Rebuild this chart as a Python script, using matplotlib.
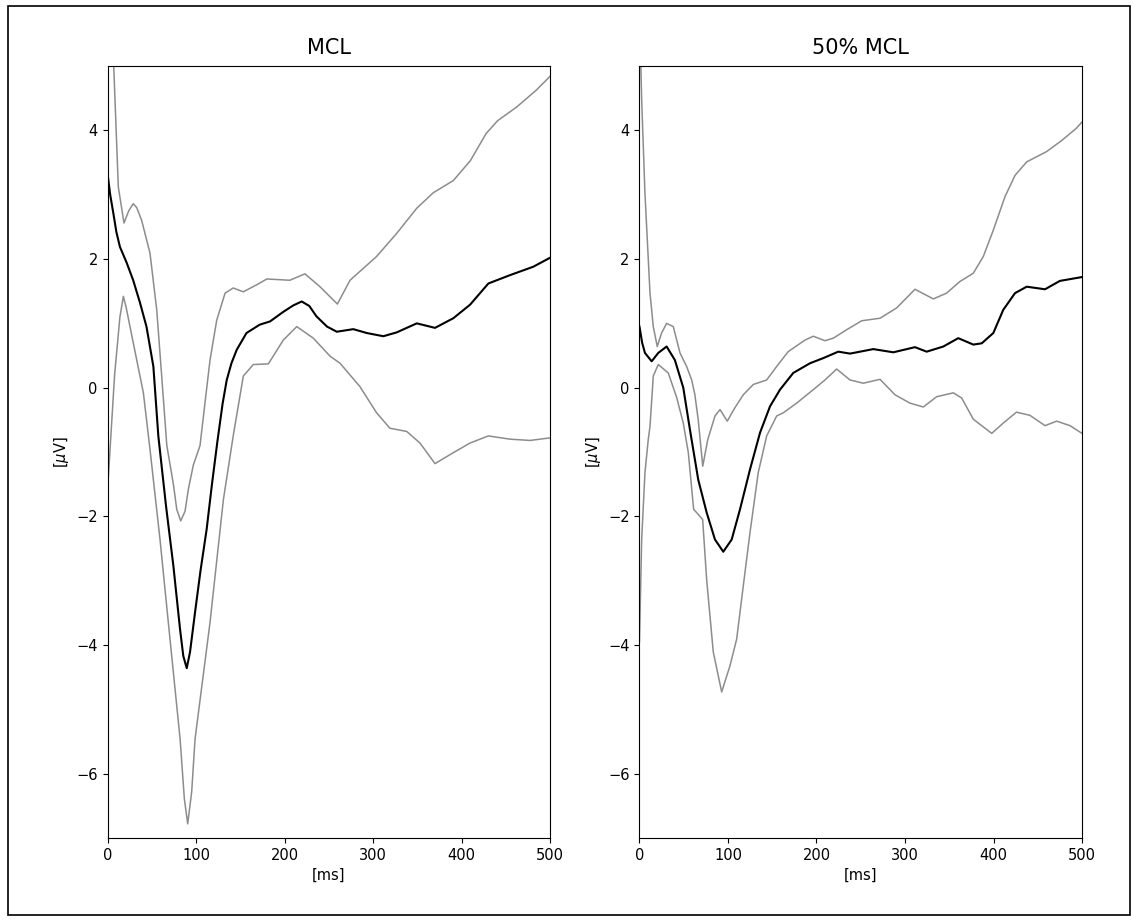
import numpy as np
import matplotlib
matplotlib.use("Agg")
import matplotlib.pyplot as plt
from matplotlib.patches import Rectangle

# MCL panel: time (ms) and amplitude (uV)
t_mcl_mean = [0, 3, 6.6, 10, 14, 21.7, 29, 36.7, 44, 51.8, 57.4, 66.1, 74.4, 81.9, 85.6, 89.5,
              93.2, 98.9, 105, 112, 118, 124, 130, 134.7, 140, 146, 157, 172, 183.6, 198.7,
              210, 219.4, 228, 236, 248, 259, 277.7, 292.9, 311.6, 326.8, 349.4, 370, 390.7,
              409.6, 430.3, 454.8, 481, 500]
v_mcl_mean = [3.33, 3.0, 2.71, 2.42, 2.19, 1.94, 1.67, 1.32, 0.95, 0.33, -0.75, -1.84, -2.77,
              -3.75, -4.17, -4.36, -4.11, -3.49, -2.85, -2.2, -1.5, -0.85, -0.25, 0.12, 0.38,
              0.59, 0.85, 0.98, 1.03, 1.18, 1.28, 1.34, 1.27, 1.11, 0.95, 0.87, 0.91, 0.85,
              0.80, 0.86, 1.0, 0.93, 1.08, 1.29, 1.62, 1.75, 1.88, 2.02]

t_mcl_up = [0, 4, 7, 12.2, 18.6, 24, 29, 33, 38.6, 48, 55.6, 61.2, 67, 74.4, 78.2, 82.7, 87.6,
            91.3, 97, 104.5, 110, 115.8, 123.4, 132.8, 142, 153.4, 168.6, 180, 206, 223, 240,
            259.7, 274, 304, 326.8, 349.4, 368, 390.7, 410, 427.7, 440.7, 462, 484, 500]
v_mcl_up = [7.5, 5.8, 5.0, 3.12, 2.56, 2.75, 2.86, 2.8, 2.6, 2.09, 1.21, 0.18, -0.9, -1.5,
            -1.89, -2.07, -1.92, -1.58, -1.2, -0.9, -0.25, 0.43, 1.05, 1.47, 1.55, 1.49, 1.60,
            1.69, 1.67, 1.77, 1.57, 1.30, 1.67, 2.04, 2.40, 2.79, 3.03, 3.22, 3.53, 3.95, 4.15,
            4.36, 4.62, 4.84]

t_mcl_lo = [0, 8, 14, 17.9, 21, 25.4, 33, 40.5, 48, 59.3, 70.6, 82, 86.8, 90.6, 95.1, 98.9,
            115.8, 130.9, 142, 153.4, 164.7, 181.7, 198.6, 213.8, 232.5, 251.4, 262.7, 285,
            304, 319, 338, 353, 370, 390.7, 409.6, 430.3, 454.8, 477.4, 500]
v_mcl_lo = [-1.6, 0.2, 1.1, 1.42, 1.25, 0.95, 0.43, -0.08, -0.96, -2.36, -3.91, -5.46, -6.39,
            -6.78, -6.28, -5.46, -3.65, -1.74, -0.75, 0.18, 0.36, 0.37, 0.74, 0.95, 0.77, 0.49,
            0.38, 0.02, -0.39, -0.63, -0.68, -0.86, -1.18, -1.01, -0.86, -0.75, -0.80, -0.82,
            -0.78]

# 50% MCL panel
t_half_mean = [0, 3, 6.2, 13.8, 21.2, 30.7, 40, 49.5, 57, 66.4, 75.9, 85.3, 94.7, 104.2,
               113.6, 124.9, 136.2, 147.5, 158.8, 173.8, 192.7, 207.7, 224.6, 237.9, 264.2,
               286.8, 311.3, 324.5, 343.3, 360.2, 377.2, 386.7, 399.8, 411, 424.3, 437.5,
               458.2, 475, 500]
v_half_mean = [0.95, 0.7, 0.54, 0.41, 0.54, 0.64, 0.43, 0.0, -0.65, -1.43, -1.94, -2.36, -2.55,
               -2.36, -1.89, -1.27, -0.70, -0.29, -0.03, 0.23, 0.38, 0.46, 0.56, 0.53, 0.60,
               0.55, 0.63, 0.56, 0.64, 0.77, 0.67, 0.69, 0.85, 1.21, 1.47, 1.57, 1.53, 1.66,
               1.72]

t_half_up = [0, 1, 2.5, 6.2, 11.9, 15.6, 20.1, 25, 30.7, 38.2, 45.8, 53.3, 59, 62.5, 66.4,
             71.5, 77.1, 85.3, 91, 99.2, 107.9, 117.3, 128.6, 143.7, 155, 168, 187, 196.4,
             209.6, 219, 234, 251, 271.8, 290.6, 311.3, 332, 347, 362, 377.2, 388.5, 399.8,
             413, 424.3, 437.5, 460, 476.8, 493.4, 500]
v_half_up = [6.5, 5.3, 4.47, 3.02, 1.47, 0.95, 0.64, 0.85, 1.0, 0.95, 0.54, 0.33, 0.12, -0.1,
             -0.5, -1.22, -0.81, -0.44, -0.34, -0.52, -0.31, -0.11, 0.05, 0.12, 0.33, 0.56,
             0.74, 0.80, 0.73, 0.77, 0.90, 1.04, 1.08, 1.24, 1.53, 1.38, 1.47, 1.65, 1.78,
             2.04, 2.45, 2.97, 3.30, 3.51, 3.67, 3.84, 4.03, 4.13]

t_half_lo = [0, 2.5, 6.2, 9.9, 11.9, 15.6, 21.2, 32.5, 42, 49.5, 55.2, 61.2, 66.4, 71.4, 75.9,
             83.4, 92.9, 102.3, 109.8, 117.3, 124.9, 134.2, 143.7, 155, 162.5, 177.6, 196.4,
             209.6, 222.8, 237.9, 252.9, 271.8, 288.7, 305.6, 320.7, 335.8, 354.6, 364, 377.2,
             398, 411, 426, 441.2, 458.2, 471.4, 486.4, 500]
v_half_lo = [-3.95, -2.36, -1.32, -0.81, -0.60, 0.18, 0.36, 0.23, -0.15, -0.55, -1.01, -1.89,
             -1.97, -2.05, -2.98, -4.11, -4.73, -4.32, -3.91, -3.08, -2.25, -1.32, -0.75,
             -0.44, -0.39, -0.24, -0.03, 0.12, 0.29, 0.12, 0.07, 0.13, -0.11, -0.24, -0.30,
             -0.14, -0.08, -0.16, -0.49, -0.71, -0.55, -0.38, -0.43, -0.59, -0.52, -0.59,
             -0.71]

titles = ["MCL", "50% MCL"]
panels = [
    (t_mcl_mean, v_mcl_mean, t_mcl_up, v_mcl_up, t_mcl_lo, v_mcl_lo),
    (t_half_mean, v_half_mean, t_half_up, v_half_up, t_half_lo, v_half_lo),
]

fig = plt.figure(figsize=(11.33, 9.21), dpi=100)
lefts = [0.0949, 0.5644]

for i in range(2):
    tm, vm, tu, vu, tl, vl = panels[i]
    ax = fig.add_axes([lefts[i], 0.0901, 0.3906, 0.8382])
    ax.plot(tu, vu, color='0.55', lw=1.1)
    ax.plot(tl, vl, color='0.55', lw=1.1)
    ax.plot(tm, vm, color='black', lw=1.5)
    ax.set_xlim(0, 500)
    ax.set_ylim(-7, 5)
    ax.set_xticks([0, 100, 200, 300, 400, 500])
    ax.set_yticks([-6, -4, -2, 0, 2, 4])
    ax.tick_params(labelsize=10.5)
    ax.set_title(titles[i], fontsize=15, pad=9)
    ax.set_xlabel("[ms]", fontsize=10.5)
    ax.set_ylabel(r"[$\mu$V]", fontsize=10.5)

# border around the whole figure
fig.patches.append(Rectangle((8 / 1133, 1 - 915 / 921), 1122 / 1133, 909 / 921,
                             transform=fig.transFigure, fill=False, edgecolor='black', lw=1.2))

fig.savefig("out.png", dpi=100)
